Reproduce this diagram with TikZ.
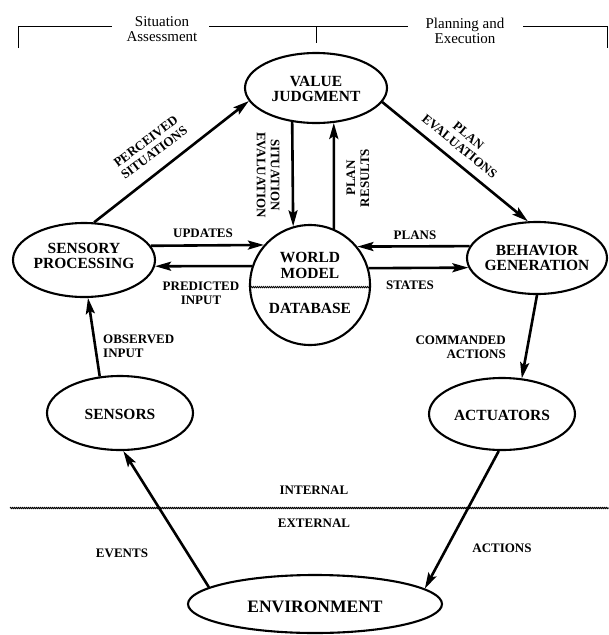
\documentclass[tikz,border=0pt]{standalone}
\usepackage{fontspec}
\setmainfont{Liberation Serif}
\usetikzlibrary{shapes.geometric,arrows.meta,decorations.pathmorphing}

\begin{document}
\begin{tikzpicture}[x=1pt,y=-1pt,
  ell/.style={ellipse,draw,line width=2.1pt,inner sep=0pt},
  ntext/.style={font=\bfseries\fontsize{15.5}{15.5}\selectfont,align=center,inner sep=0pt},
  lab/.style={font=\bfseries\fontsize{13}{14}\selectfont,align=center,inner sep=0pt},
  toptext/.style={font=\fontsize{15}{15}\selectfont,align=center,inner sep=0pt},
  arr/.style={line width=2.6pt,-{Stealth[length=16pt,width=9pt,inset=3pt]}},
  wavy/.style={line width=0.9pt,decorate,decoration={snake,amplitude=0.6pt,segment length=2pt}},
  bracket/.style={line width=1pt}]
\useasboundingbox (0,0) rectangle (609,635);
\fill[white] (0,0) rectangle (609,635);

% functional groups along the top
\node[toptext] (sa) at (162,29.5) {Situation\\Assessment};
\node[toptext] (pe) at (465,30.5) {Planning and\\Execution};
\draw[bracket] (18,48) -- (18,26) -- (112,26);
\draw[bracket] (209,26) -- (408,26);
\draw[bracket] (523,26) -- (607,26) -- (607,48);
\draw[bracket] (316,26) -- (316,43);

% processing modules
\node[ell,minimum width=142pt,minimum height=70pt] (vj) at (316,88) {};
\node[ntext] (vjt) at (316,89) {VALUE\\JUDGMENT};
\node[ell,minimum width=142pt,minimum height=74pt] (sp) at (84,260) {};
\node[ntext] (spt) at (84,256) {SENSORY\\PROCESSING};
\node[ell,minimum width=140pt,minimum height=72pt] (bg) at (537,258) {};
\node[ntext] (bgt) at (537,258) {BEHAVIOR\\GENERATION};
\node[circle,draw,line width=2.1pt,inner sep=0pt,minimum size=120pt] (wm) at (310,285) {};
\node[ntext] (wmt) at (310,265.5) {WORLD\\MODEL};
\node[ntext] (db) at (310,308) {DATABASE};
\draw[wavy] (wm.182.9) -- (wm.-2.9);
\node[ell,minimum width=146pt,minimum height=74pt] (sen) at (120,413) {};
\node[ntext] (sent) at (120,414) {SENSORS};
\node[ell,minimum width=146pt,minimum height=72pt] (act) at (502,414) {};
\node[ntext] (actt) at (502,415) {ACTUATORS};
\node[ell,minimum width=254pt,minimum height=58pt] (env) at (315,604) {};
\node[ntext,font=\bfseries\fontsize{17.5}{17.5}\selectfont] (envt) at (315,607) {ENVIRONMENT};

% internal / external boundary
\coordinate (bl) at (10,508);
\coordinate (br) at (609,508);
\draw[wavy] (bl) -- (br);
\node[lab] (int) at (314,490) {INTERNAL};
\node[lab] (ext) at (314,523) {EXTERNAL};

% information flows
\draw[arr] (sp.75.3) -- (vj.191.6);
\draw[arr] (vj.-12.3) -- (bg.104.7);
\draw[arr] (vj.235.2) -- (wm.106.5);
\draw[arr] (wm.67.5) -- (vj.-63.4);
\draw[arr] (sp.12) -- (wm.139.5);
\draw[arr] (wm.162.5) -- (sp.-5.7);
\draw[arr] (bg.170.6) -- (wm.39.3);
\draw[arr] (wm.16.5) -- (bg.188.5);
\draw[arr] (sen.119) -- (sp.276);
\draw[arr] (bg.270) -- (act.61);
\draw[arr] (act.265) -- (env.8.7);
\draw[arr] (env.171.2) -- (sen.275);

% flow labels
\node[lab,rotate=37] (lps) at (150,147) {PERCEIVED\\SITUATIONS};
\node[lab,rotate=-39.5] (lpe) at (464,141) {PLAN\\EVALUATIONS};
\node[lab,rotate=-90] (lse) at (268,175) {SITUATION\\EVALUATION};
\node[lab,rotate=90] (lpr) at (358,178) {PLAN\\RESULTS};
\node[lab] (lup) at (203,233) {UPDATES};
\node[lab] (lpi) at (201,293.5) {PREDICTED\\INPUT};
\node[lab] (lpl) at (415,235) {PLANS};
\node[lab] (lst) at (410,285) {STATES};
\node[lab,anchor=west,align=left] (lob) at (103,346) {OBSERVED\\INPUT};
\node[lab,anchor=east,align=right] (lca) at (506,347.5) {COMMANDED\\ACTIONS};
\node[lab] (lev) at (122,553) {EVENTS};
\node[lab] (lac) at (502,548) {ACTIONS};
\end{tikzpicture}
\end{document}
